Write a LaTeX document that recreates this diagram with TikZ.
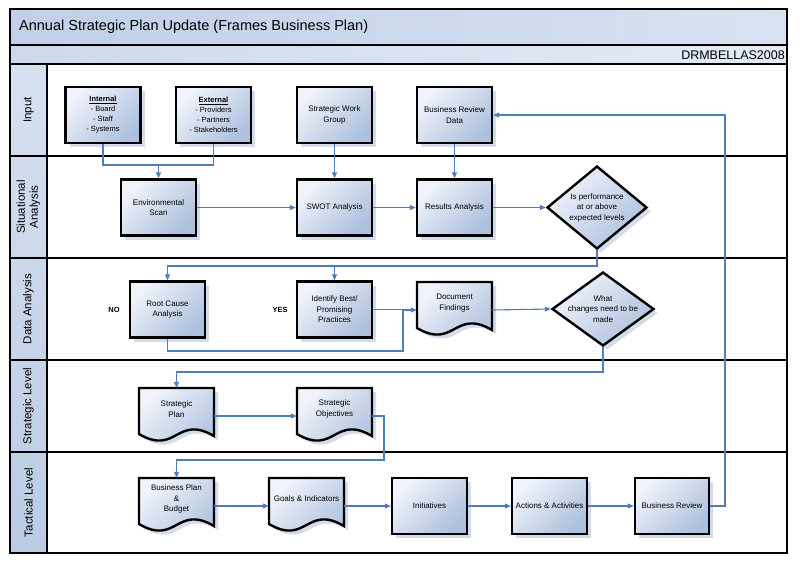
\documentclass[tikz,border=0pt]{standalone}
\usepackage{fontspec}
\setmainfont{Liberation Sans}
\usetikzlibrary{arrows.meta,shapes.geometric,shadows,calc}
\definecolor{connc}{HTML}{4F7DB8}
\definecolor{boxlt}{HTML}{F0F3FA}
\definecolor{boxdk}{HTML}{ADC1DE}
\definecolor{shad}{HTML}{D5DCE7}
\definecolor{titlelt}{HTML}{D8E2F1}
\definecolor{titledk}{HTML}{BFD0E8}
\definecolor{sublt}{HTML}{E4EBF5}
\definecolor{subdk}{HTML}{CCD9EC}
\definecolor{lanelt}{HTML}{D6E1F0}
\definecolor{lanedk}{HTML}{BACBE4}
\tikzset{
  conn/.style={draw=connc, line width=1.1pt},
  arr/.style={conn, -{Triangle[length=6pt,width=5pt]}},
  frame/.style={draw=black, line width=2.4pt},
  txt/.style={inner sep=0pt, align=center, font=\fontsize{8}{10.5}\selectfont},
  proc/.style={rectangle, draw=black, line width=2.4pt, minimum width=75pt, minimum height=56pt,
    inner sep=1pt, align=center, font=\fontsize{8}{10.5}\selectfont,
    top color=boxlt, bottom color=boxdk, shading angle=45,
    drop shadow={shadow xshift=4pt, shadow yshift=-4pt, fill=shad, opacity=1}},
  dec/.style={diamond, draw=black, line width=2.4pt, inner sep=0pt,
    top color=boxlt, bottom color=boxdk, shading angle=45,
    drop shadow={shadow xshift=4pt, shadow yshift=-4pt, fill=shad, opacity=1}},
  docstyle/.style={draw=black, line width=2.4pt, top color=boxlt, bottom color=boxdk, shading angle=45},
  lanelbl/.style={rotate=90, align=center, inner sep=0pt, font=\fontsize{11.5}{13}\selectfont},
  yn/.style={inner sep=0pt, font=\bfseries\fontsize{7.5}{9}\selectfont}
}
\newcommand{\docbox}[4]{%
  \begin{scope}[shift={(#2,#3)}]
    \fill[shad] (4,4) -- (79,4) -- (79,52) .. controls (41.5,30) and (41.5,72) .. (4,50) -- cycle;
    \path[docstyle] (0,0) -- (75,0) -- (75,48) .. controls (37.5,26) and (37.5,68) .. (0,46) -- cycle;
    \node[inner sep=0pt, minimum width=75pt, minimum height=56pt] (#1) at (37.5,28) {};
    \node[txt] (#1-t) at (37.5,21) {#4};
  \end{scope}}
\begin{document}
\begin{tikzpicture}[x=1pt,y=-1pt]
\useasboundingbox (0,0) rectangle (800,573);
% backgrounds
\fill[white] (10,64) rectangle (787,553);
\shade[left color=titledk, right color=titlelt] (10,9) rectangle (787,45);
\shade[left color=subdk, right color=sublt] (10,45) rectangle (787,64);
\shade[top color=lanelt, bottom color=lanedk] (10,64) rectangle (47,553);
% frame and lanes
\draw[frame] (10,9) rectangle (787,553);
\draw[frame] (10,45) -- (787,45);
\draw[frame] (10,64) -- (787,64);
\draw[frame] (10,156) -- (787,156);
\draw[frame] (10,258) -- (787,258);
\draw[frame] (10,360) -- (787,360);
\draw[frame] (10,452) -- (787,452);
\draw[frame] (47,64) -- (47,553);
% titles
\node[anchor=west, inner sep=0pt, font=\fontsize{14.5}{16}\selectfont] (title) at (19,27) {Annual Strategic Plan Update (Frames Business Plan)};
\node[anchor=east, inner sep=0pt, font=\fontsize{12.5}{14}\selectfont] (sub) at (785,55) {DRMBELLAS2008};
% lane labels
\node[lanelbl] (lane1) at (28.5,110) {Input};
\node[lanelbl] (lane2) at (28.5,207) {Situational\\Analysis};
\node[lanelbl] (lane3) at (28.5,309) {Data Analysis};
\node[lanelbl] (lane4) at (28.5,406) {Strategic Level};
\node[lanelbl] (lane5) at (28.5,502.5) {Tactical Level};
% input lane
\node[proc, font=\fontsize{7.5}{10}\selectfont] (internal) at (103,115) {\underline{\textbf{Internal}}\\-{} Board\\-{} Staff\\-{} Systems};
\node[proc, font=\fontsize{7.5}{10}\selectfont] (external) at (213.5,115) {\underline{\textbf{External}}\\-{} Providers\\-{} Partners\\-{} Stakeholders};
\node[proc] (swg) at (334.5,115) {Strategic Work\\Group};
\node[proc] (brd) at (454.5,115) {Business Review\\Data};
% situational
\node[proc] (env) at (158.5,207.5) {Environmental\\Scan};
\node[proc] (swot) at (334.5,207.5) {SWOT Analysis};
\node[proc] (results) at (454.5,207.5) {Results Analysis};
\node[dec, minimum width=100pt, minimum height=83pt] (d1) at (597,207.5) {};
\node[txt] (d1t) at (597,207.5) {Is performance\\at or above\\expected levels};
% data analysis
\node[yn] (no) at (114,309.5) {NO};
\node[yn] (yes) at (280,309.5) {YES};
\node[proc] (root) at (167.5,309.5) {Root Cause\\Analysis};
\node[proc] (ident) at (334.5,309.5) {Identify Best/\\Promising\\Practices};
\docbox{docf}{417}{282}{Document\\Findings}
\node[dec, minimum width=102pt, minimum height=74pt] (d2) at (603,309) {};
\node[txt] (d2t) at (603,309) {What\\changes need to be\\made};
% strategic
\docbox{sp}{139}{388}{Strategic\\Plan}
\docbox{so}{297}{388}{Strategic\\Objectives}
% tactical
\docbox{bp}{139}{478}{Business Plan\\\&\\Budget}
\docbox{gi}{269}{478}{Goals \& Indicators}
\node[proc] (init) at (429.5,506) {Initiatives};
\node[proc] (act) at (549.5,506) {Actions \& Activities};
\node[proc, minimum width=74pt] (br) at (672,506) {Business Review};
% connectors
\coordinate (j1) at (158.5,165);
\draw[conn] (internal.south) |- (external.south |- j1) -- (external.south);
\draw[arr] (j1) -- (env.north);
\draw[arr] (swg.south) -- (swot.north);
\draw[arr] (brd.south) -- (results.north);
\draw[arr] (env.east) -- (swot.west);
\draw[arr] (swot.east) -- (results.west);
\draw[arr] (results.east) -- (d1.west);
\coordinate (j2) at (597,266);
\draw[arr] (d1.south) -- (j2) -| (root.north);
\draw[arr] (ident.north |- j2) -- (ident.north);
\coordinate (j3) at (403,351);
\draw[arr] (root.south) |- (j3) |- (docf.west);
\draw[conn] (ident.east) -- (ident.east -| j3);
\draw[arr] (docf.east) -- (d2.west);
\coordinate (j4) at (603,372);
\draw[arr] (d2.south) -- (j4) -| (sp.north);
\draw[arr] (sp.east) -- (so.west);
\coordinate (j5) at (384,460);
\draw[arr] (so.east) -| (j5) -| (bp.north);
\draw[arr] (bp.east) -- (gi.west);
\draw[arr] (gi.east) -- (init.west);
\draw[arr] (init.east) -- (act.west);
\draw[arr] (act.east) -- (br.west);
\coordinate (j6) at (725,115);
\draw[arr] (br.east) -| (j6) -- (brd.east);
\end{tikzpicture}
\end{document}
